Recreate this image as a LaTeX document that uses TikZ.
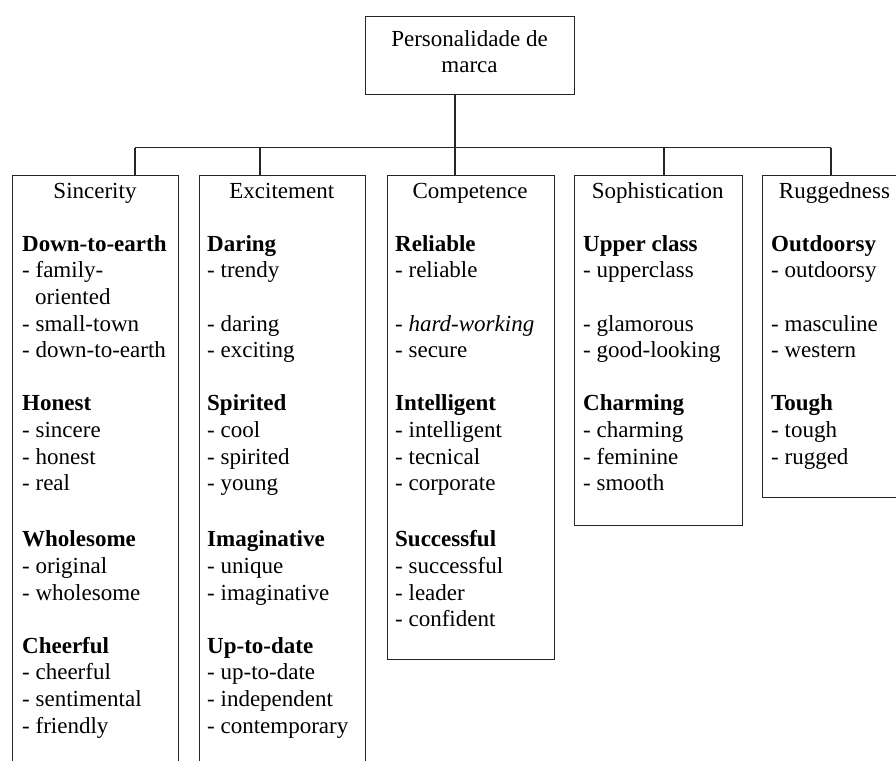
\documentclass[tikz,border=0pt]{standalone}
\usepackage{fontspec}
\setmainfont{Liberation Serif}
\begin{document}
\begin{tikzpicture}[x=1pt,y=-1pt,
  box/.style={draw=black!85,line width=1.1pt,anchor=north west,inner sep=0pt},
  wire/.style={draw=black!85,line width=1.1pt},
  item/.style={anchor=base west,inner sep=0pt,font=\fontsize{23}{26.6}\selectfont},
  ttl/.style={anchor=base,inner sep=0pt,font=\fontsize{23}{26.6}\selectfont}]
\useasboundingbox (0,0) rectangle (896,760);
\clip (0,0) rectangle (896,760);
\fill[white] (0,0) rectangle (896,760);
% boxes
\node[box,minimum width=209pt,minimum height=78pt] (top) at (365,16) {};
\node[box,minimum width=166pt,minimum height=620pt] (sinc) at (12,175) {};
\node[box,minimum width=166.5pt,minimum height=620pt] (exci) at (198.5,175) {};
\node[box,minimum width=167pt,minimum height=483.5pt] (comp) at (386.5,175) {};
\node[box,minimum width=167.5pt,minimum height=350pt] (soph) at (574,175) {};
\node[box,minimum width=167pt,minimum height=322pt] (rugg) at (762,175) {};
% connectors
\coordinate (b1) at (135,147.5);
\coordinate (b2) at (260,147.5);
\coordinate (b3) at (455,147.5);
\coordinate (b4) at (664,147.5);
\coordinate (b5) at (831,147.5);
\draw[wire] (top.south -| b3) -- (b3);
\draw[wire] (b1) -- (b5);
\draw[wire] (b1) -- (b1 |- sinc.north);
\draw[wire] (b2) -- (b2 |- exci.north);
\draw[wire] (b3) -- (b3 |- comp.north);
\draw[wire] (b4) -- (b4 |- soph.north);
\draw[wire] (b5) -- (b5 |- rugg.north);
% top text
\node[ttl] (toptxt1) at (469.5,47) {Personalidade de};
\node[ttl] (toptxt2) at (469.5,73) {marca};
% titles
\node[ttl] (t1) at (95,198) {Sincerity};
\node[ttl] (t2) at (281.75,198) {Excitement};
\node[ttl] (t3) at (470,198) {Competence};
\node[ttl] (t4) at (657.75,198) {Sophistication};
\node[ttl] (t5) at (834.5,198) {Ruggedness};
% Sincerity
\foreach \r/\t [count=\k] in {2/\textbf{Down-to-earth},3/- family-,4/\hspace*{13pt}oriented,5/- small-town,6/- down-to-earth,
  8/\textbf{Honest},9/- sincere,10/- honest,11/- real,
  13/\textbf{Wholesome},14/- original,15/- wholesome,
  17/\textbf{Cheerful},18/- cheerful,19/- sentimental,20/- friendly}{
  \pgfmathsetmacro\yy{198+\r*26.6+3*(\r>12)}
  \node[item] (s\k) at (22,\yy) {\t};
}
% Excitement
\foreach \r/\t [count=\k] in {2/\textbf{Daring},3/- trendy,5/- daring,6/- exciting,
  8/\textbf{Spirited},9/- cool,10/- spirited,11/- young,
  13/\textbf{Imaginative},14/- unique,15/- imaginative,
  17/\textbf{Up-to-date},18/- up-to-date,19/- independent,20/- contemporary}{
  \pgfmathsetmacro\yy{198+\r*26.6+3*(\r>12)}
  \node[item] (e\k) at (207,\yy) {\t};
}
% Competence
\foreach \r/\t [count=\k] in {2/\textbf{Reliable},3/- reliable,5/- \textit{hard-working},6/- secure,
  8/\textbf{Intelligent},9/- intelligent,10/- tecnical,11/- corporate,
  13/\textbf{Successful},14/- successful,15/- leader,16/- confident}{
  \pgfmathsetmacro\yy{198+\r*26.6+3*(\r>12)}
  \node[item] (c\k) at (395,\yy) {\t};
}
% Sophistication
\foreach \r/\t [count=\k] in {2/\textbf{Upper class},3/- upperclass,5/- glamorous,6/- good-looking,
  8/\textbf{Charming},9/- charming,10/- feminine,11/- smooth}{
  \pgfmathsetmacro\yy{198+\r*26.6}
  \node[item] (p\k) at (583,\yy) {\t};
}
% Ruggedness
\foreach \r/\t [count=\k] in {2/\textbf{Outdoorsy},3/- outdoorsy,5/- masculine,6/- western,
  8/\textbf{Tough},9/- tough,10/- rugged}{
  \pgfmathsetmacro\yy{198+\r*26.6}
  \node[item] (r\k) at (771,\yy) {\t};
}
\end{tikzpicture}
\end{document}
